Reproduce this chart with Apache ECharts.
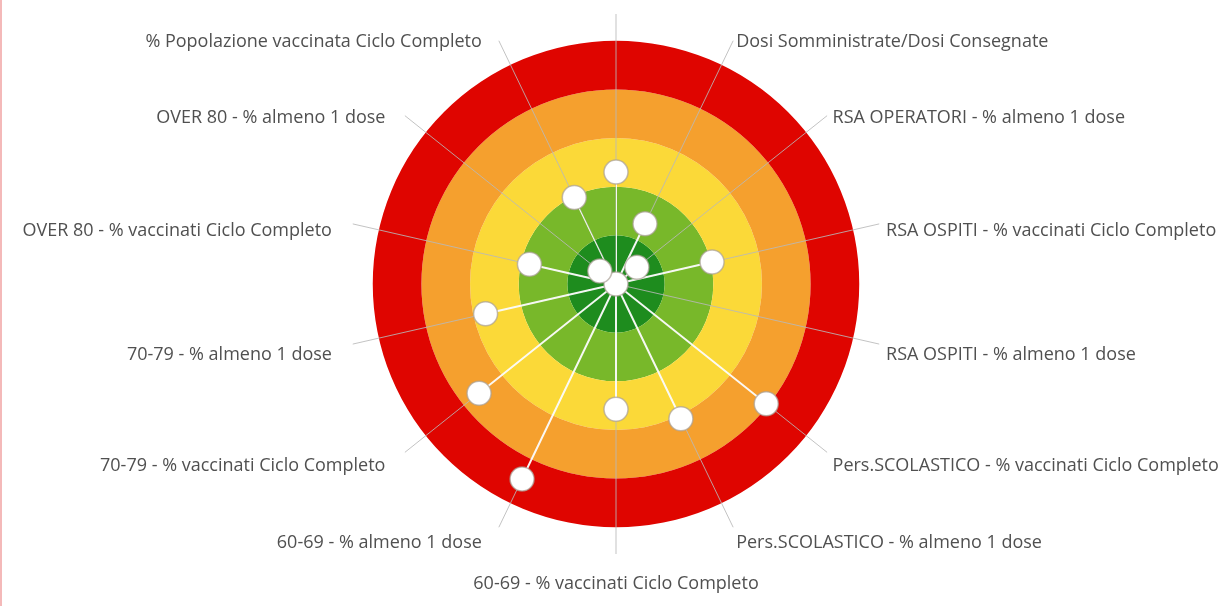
<!DOCTYPE html>
<html>
<head>
<meta charset="utf-8">
<script src="https://cdn.jsdelivr.net/npm/echarts@6/dist/echarts.min.js"></script>
<style>
  html, body { margin: 0; padding: 0; background: #fff; }
  #chart { width: 1225px; height: 606px; }
  #edge { position: absolute; left: 0; top: 0; width: 2px; height: 606px; background: #f4b9b9; }
</style>
</head>
<body>
<div id="chart"></div>
<div id="edge"></div>
<script>
// indicatori in senso orario a partire dall'alto
var categories = [
  "% Popolazione vaccinata almeno 1 dose",
  "Dosi Somministrate/Dosi Consegnate",
  "RSA OPERATORI - % almeno 1 dose",
  "RSA OSPITI - % vaccinati Ciclo Completo",
  "RSA OSPITI - % almeno 1 dose",
  "Pers.SCOLASTICO - % vaccinati Ciclo Completo",
  "Pers.SCOLASTICO - % almeno 1 dose",
  "60-69 - % vaccinati Ciclo Completo",
  "60-69 - % almeno 1 dose",
  "70-79 - % vaccinati Ciclo Completo",
  "70-79 - % almeno 1 dose",
  "OVER 80 - % vaccinati Ciclo Completo",
  "OVER 80 - % almeno 1 dose",
  "% Popolazione vaccinata Ciclo Completo"
];
// distanza dal centro (0 = centro, 100 = bordo anello rosso)
var values = [46, 27.5, 11, 40.5, 0, 79, 61.5, 51.5, 89, 72, 55, 36.5, 8.5, 39.5];
// fasce: dal centro verso l'esterno
var bandColors = ["#1e8c1e", "#78b82a", "#fbd938", "#f5a02e", "#df0500", "rgba(0,0,0,0)"];

var chart = echarts.init(document.getElementById("chart"));

// ogni raggio: centro -> punto -> centro
var spokeData = [];
categories.forEach(function (c, i) {
  spokeData.push({ value: [0, c], symbolSize: 0 });
  spokeData.push({ value: [values[i], c] });
});

// etichette centrate verticalmente sulla fine della linea guida
var n = categories.length;
var isSide = categories.map(function (c, i) {
  return Math.abs(Math.cos(i * 2 * Math.PI / n)) * 277 / 270 < 0.3;
});
var angleData = categories.map(function (c, i) {
  var cos = Math.cos(i * 2 * Math.PI / n);
  var right = i > n / 2 ? 14 : 0;
  var ts;
  if (i === 0) ts = { padding: [0, 0, 14, 0] };              // fuori dall'area visibile
  else if (i === n / 2) ts = { padding: [14, 0, 0, 0] };
  else if (isSide[i]) ts = { lineHeight: 18, padding: [0, right, 0, 0] };
  else if (cos > 0) ts = { padding: [0, right, -16, 0] };
  else ts = { padding: [0, right, 0, 0] };
  return { value: c, textStyle: ts };
});

var option = {
  animation: false,
  polar: {
    center: [616, 284],
    radius: 270
  },
  radiusAxis: {
    type: "value",
    min: 0,
    max: 111,
    interval: 20,
    z: 0,
    axisLine: { show: false },
    axisTick: { show: false },
    axisLabel: { show: false },
    splitLine: { show: false },
    splitArea: { show: true, areaStyle: { color: bandColors } }
  },
  angleAxis: {
    type: "category",
    data: angleData,
    startAngle: 90,
    clockwise: true,
    boundaryGap: false,
    z: 1,
    axisLine: { show: false },
    axisTick: { show: false },
    splitLine: {
      show: true,
      interval: 0,
      lineStyle: { color: "rgba(185,185,185,0.85)", width: 1 }
    },
    axisLabel: {
      interval: 0,
      margin: 7,
      color: "#505050",
      fontSize: 18,
      fontFamily: "Open Sans",
      formatter: function (value, index) {
        return (isSide[index] ? "\n" : "") + value;
      }
    }
  },
  series: [
    {
      type: "line",
      coordinateSystem: "polar",
      data: spokeData,
      z: 3,
      symbol: "circle",
      symbolSize: 24,
      lineStyle: { color: "rgba(255,255,255,0.9)", width: 2 },
      itemStyle: {
        color: "#fff",
        borderColor: "rgba(170,160,150,0.7)",
        borderWidth: 1.5
      }
    }
  ]
};

chart.setOption(option);
</script>
</body>
</html>
